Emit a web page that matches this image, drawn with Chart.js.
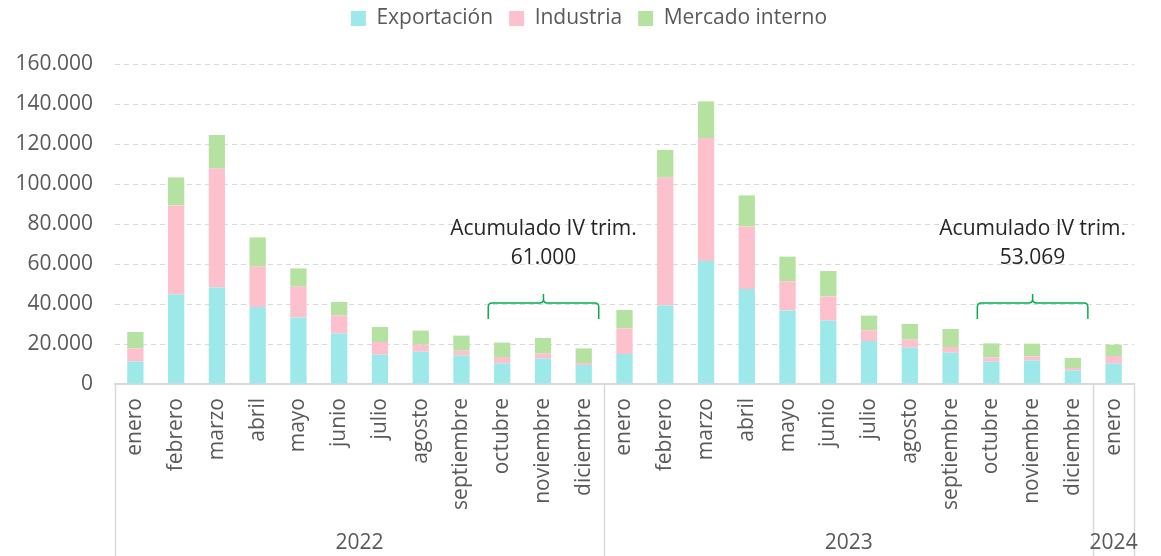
<!DOCTYPE html>
<html>
<head>
<meta charset="utf-8">
<script src="https://cdn.jsdelivr.net/npm/chart.js@4.4.1/dist/chart.umd.min.js"></script>
<style>
  html, body { margin: 0; padding: 0; background: #fff; }
  #wrap { width: 1161px; height: 556px; }
</style>
</head>
<body>
<div id="wrap"><canvas id="volChart"></canvas></div>
<script>
const months = ['enero', 'febrero', 'marzo', 'abril', 'mayo', 'junio', 'julio', 'agosto',
  'septiembre', 'octubre', 'noviembre', 'diciembre'];
const labels = [...months, ...months, 'enero'];
const years = ['2022', '2023', '2024'];
const yearSizes = [12, 12, 1];

// valores
const exportacion = [11300, 44700, 48200, 38500, 33300, 25300, 14700, 16200, 14200, 10300, 12700, 9500,
  15000, 39300, 61500, 47500, 36800, 31700, 21500, 18200, 15700, 11200, 11800, 6700,
  10300];
const industria = [6500, 44600, 59500, 20200, 15400, 9000, 6300, 3500, 2500, 3200, 2500, 1000,
  12800, 63900, 61500, 31300, 14500, 12100, 5300, 4100, 2800, 2100, 2000, 1300,
  3700];
const mercadoInterno = [8200, 14000, 16800, 14600, 9100, 6700, 7500, 7000, 7500, 7200, 7800, 7300,
  9200, 13800, 18300, 15500, 12400, 12700, 7400, 7700, 9000, 7000, 6400, 5000,
  5700];

const yTicks = [0, 20000, 40000, 60000, 80000, 100000, 120000, 140000, 160000];

// anotaciones del IV trimestre: primer y ultimo mes (indices), texto
const braceFrom = [9, 21];
const braceTo = [11, 23];
const braceText = ['61.000', '53.069'];

const grey = '#595959';
const font = "'Open Sans', 'Noto Sans', sans-serif";
const fs = 21;

const fmt = v => v === 0 ? '0' : v.toLocaleString('de-DE');

// ajuste de la leyenda: espacio debajo y desplazamiento
const legendGap = {
  id: 'legendGap',
  beforeInit(chart) {
    const lg = chart.legend;
    const fit = lg.fit;
    lg.fit = function () {
      fit.call(lg);
      this.height += 17;
    };
    const draw = lg.draw;
    lg.draw = function (area) {
      const c = this.ctx;
      c.save();
      c.translate(22, -8);
      draw.call(lg, area);
      c.restore();
    };
  }
};

const extras = {
  id: 'extras',
  afterDraw(chart) {
    const { ctx, chartArea, scales } = chart;
    const x = scales.x, y = scales.y;
    const w = x.getPixelForValue(1) - x.getPixelForValue(0);
    const bottom = chart.height;
    ctx.save();
    // bordes de los grupos de anio
    ctx.strokeStyle = '#d9d9d9';
    ctx.lineWidth = 1.5;
    let start = 0;
    const edges = [chartArea.left];
    yearSizes.forEach(n => { start += n; edges.push(x.getPixelForValue(start - 1) + w / 2); });
    edges.forEach(px => {
      ctx.beginPath();
      ctx.moveTo(Math.round(px) + 0.5, chartArea.bottom);
      ctx.lineTo(Math.round(px) + 0.5, bottom);
      ctx.stroke();
    });
    // anios
    ctx.fillStyle = grey;
    ctx.font = fs + 'px ' + font;
    ctx.textAlign = 'center';
    ctx.textBaseline = 'middle';
    years.forEach((yr, i) => {
      ctx.fillText(yr, (edges[i] + edges[i + 1]) / 2, bottom - 13);
    });
    // llaves
    ctx.strokeStyle = '#00b050';
    ctx.lineWidth = 1.5;
    braceFrom.forEach((a, i) => {
      const x0 = x.getPixelForValue(a) - 14;
      const x1 = x.getPixelForValue(braceTo[i]) + 15;
      const xm = (x0 + x1) / 2;
      const yEnd = y.getPixelForValue(32500);
      const yMid = y.getPixelForValue(40500);
      const yTip = y.getPixelForValue(45000);
      const r = 4;
      ctx.beginPath();
      ctx.moveTo(x0, yEnd);
      ctx.lineTo(x0, yMid + r);
      ctx.quadraticCurveTo(x0, yMid, x0 + r, yMid);
      ctx.lineTo(xm - r, yMid);
      ctx.quadraticCurveTo(xm, yMid, xm, yMid - r);
      ctx.lineTo(xm, yTip);
      ctx.moveTo(xm, yMid - r);
      ctx.quadraticCurveTo(xm, yMid, xm + r, yMid);
      ctx.lineTo(x1 - r, yMid);
      ctx.quadraticCurveTo(x1, yMid, x1, yMid + r);
      ctx.lineTo(x1, yEnd);
      ctx.stroke();
      ctx.fillStyle = '#262626';
      ctx.font = fs + 'px ' + font;
      ctx.fillText('Acumulado IV trim.', xm, y.getPixelForValue(77500));
      ctx.fillText(braceText[i], xm, y.getPixelForValue(63000));
    });
    ctx.restore();
  }
};

new Chart(document.getElementById('volChart'), {
  type: 'bar',
  data: {
    labels: labels,
    datasets: [
      { label: 'Exportación', data: exportacion, backgroundColor: '#9de9e9' },
      { label: 'Industria', data: industria, backgroundColor: '#fdc0cd' },
      { label: 'Mercado interno', data: mercadoInterno, backgroundColor: '#b6e2a1' }
    ]
  },
  options: {
    responsive: true,
    maintainAspectRatio: false,
    animation: false,
    layout: { padding: { top: 0, right: 27, left: 0, bottom: 0 } },
    datasets: { bar: { barPercentage: 0.4, categoryPercentage: 1 } },
    plugins: {
      legend: {
        position: 'top',
        labels: {
          color: grey,
          font: { family: font, size: fs },
          boxWidth: 15,
          boxHeight: 15,
          padding: 16
        }
      },
      tooltip: { enabled: false }
    },
    scales: {
      x: {
        stacked: true,
        grid: { display: false },
        border: { color: '#d9d9d9', width: 2 },
        ticks: {
          color: grey,
          font: { family: font, size: fs },
          maxRotation: 90,
          minRotation: 90,
          padding: 6,
          autoSkip: false
        },
        afterFit: s => { s.height = 172; }
      },
      y: {
        stacked: true,
        min: 0,
        max: 160000,
        afterBuildTicks: s => { s.ticks = yTicks.map(v => ({ value: v })); },
        grid: { color: '#d9d9d9', drawTicks: false, lineWidth: 1 },
        border: { display: false, dash: [5, 4] },
        ticks: {
          color: grey,
          font: { family: font, size: fs },
          padding: 22,
          callback: v => fmt(v)
        },
        afterFit: s => { s.width = 115; }
      }
    }
  },
  plugins: [legendGap, extras]
});
</script>
</body>
</html>
